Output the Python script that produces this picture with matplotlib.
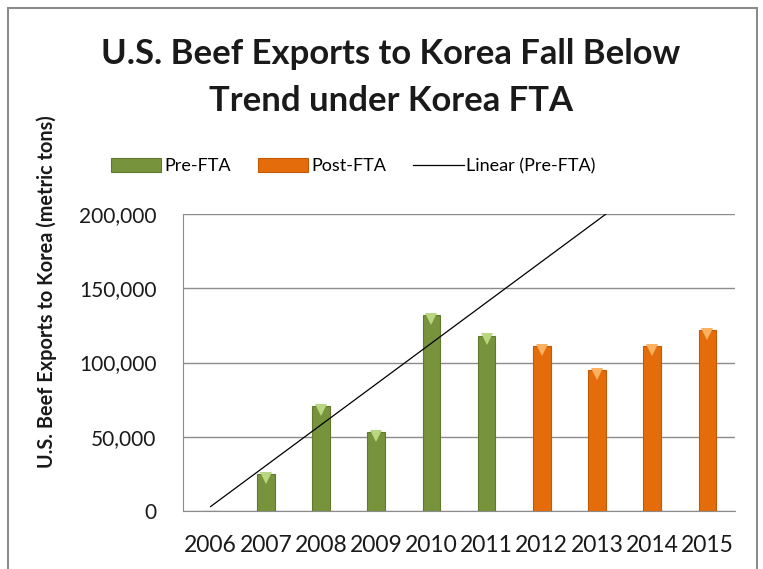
import numpy as np
import matplotlib
matplotlib.use("Agg")
import matplotlib.pyplot as plt
from matplotlib.patches import Rectangle

plt.rcParams['font.family'] = ['Lato', 'DejaVu Sans']

# Daten
years = ["2006", "2007", "2008", "2009", "2010", "2011", "2012", "2013", "2014", "2015"]
pre_fta = [0, 24600, 70600, 53000, 132000, 118000]
post_fta = [111000, 94800, 111000, 121700]
# Trendlinie (Wert 2006 und 2015)
trend_years = ["2006", "2015"]
trend_values = [3000, 250500]

green = "#77933C"
orange = "#E46C0A"

fig = plt.figure(figsize=(7.63, 5.69), dpi=100)
ax = fig.add_axes([0.2398, 0.1019, 0.7235, 0.522])

x_pre = np.arange(len(pre_fta))
x_post = np.arange(len(pre_fta), len(years))

b1 = ax.bar(x_pre, pre_fta, width=0.32, color=green, edgecolor="#5f7a2c", linewidth=0.8,
            label="Pre-FTA", zorder=3)
b2 = ax.bar(x_post, post_fta, width=0.32, color=orange, edgecolor="#c25a06", linewidth=0.8,
            label="Post-FTA", zorder=3)

# Helle Dreiecke oben an den Balken (Bevel-Effekt)
ax.plot(x_pre[1:], np.array(pre_fta[1:]) - 2500, "v", color="#b9d680", markersize=8,
        markeredgewidth=0, zorder=4)
ax.plot(x_post, np.array(post_fta) - 2500, "v", color="#fbb161", markersize=8,
        markeredgewidth=0, zorder=4)

xt = [years.index(y) for y in trend_years]
trend, = ax.plot(xt, trend_values, color="black", linewidth=0.9, label="Linear (Pre-FTA)", zorder=5)

ax.set_xlim(-0.5, len(years) - 0.5)
ax.set_ylim(0, 200000)
ax.set_yticks(np.arange(0, 200001, 50000))
ax.set_yticklabels([f"{v:,}" for v in range(0, 200001, 50000)])
ax.set_xticks(np.arange(len(years)))
ax.set_xticklabels(years)
ax.tick_params(length=0)
ax.tick_params(axis='x', labelsize=16.5, pad=17, labelcolor="#1a1a1a")
ax.tick_params(axis='y', labelsize=15, pad=19, labelcolor="#1a1a1a")
ax.grid(axis='y', color="#8c8c8c", linewidth=1, zorder=0)
for s in ["top", "right"]:
    ax.spines[s].set_visible(False)
for s in ["left", "bottom"]:
    ax.spines[s].set_color("#8c8c8c")

ax.set_ylabel("U.S. Beef Exports to Korea (metric tons)", fontsize=14.3, fontweight="bold",
              color="#1a1a1a")
ax.yaxis.set_label_coords(-0.228, 0.737)

fig.text(0.512, 0.864, "U.S. Beef Exports to Korea Fall Below\nTrend under Korea FTA",
         ha="center", va="center", fontsize=24.9, fontweight="bold", linespacing=1.56,
         color="#1a1a1a")

fig.legend(handles=[b1, b2, trend], loc="center", bbox_to_anchor=(0.463, 0.708), ncol=3,
           frameon=False, fontsize=13, handlelength=2.8, handleheight=0.8, columnspacing=1.5,
           handletextpad=0.15)

fig.patches.append(Rectangle((8 / 763, -0.01), 749 / 763, 1 - 8 / 569 + 0.01,
                             transform=fig.transFigure, fill=False, edgecolor="#8c8c8c",
                             linewidth=1.5))

fig.savefig("out.png", dpi=100)
